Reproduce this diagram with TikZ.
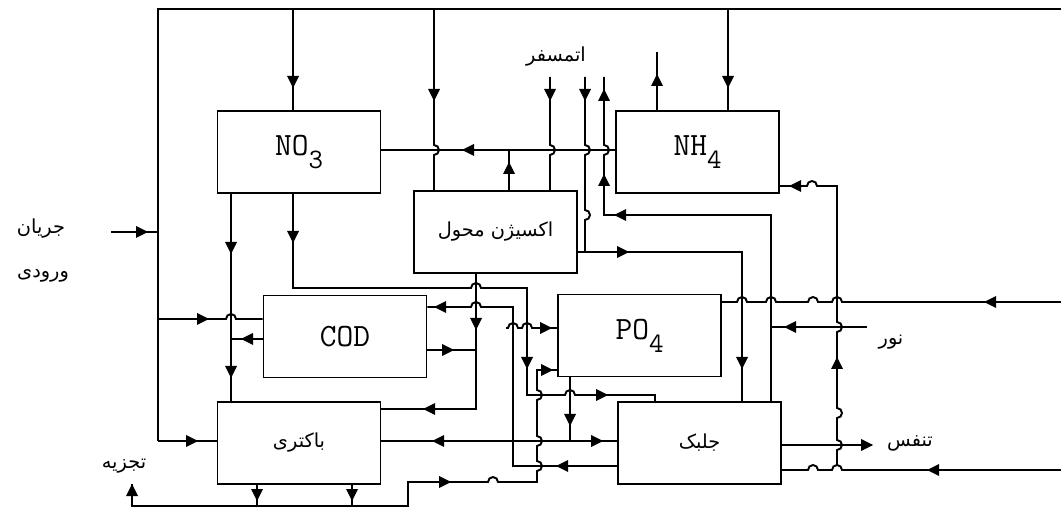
\documentclass[tikz,border=0pt]{standalone}
\usepackage{fontspec}
\newfontfamily\fa[Script=Arabic]{DejaVu Sans}
\TeXXeTstate=1
% jumps over a crossing line: heading right / left / down / up
\newcommand\jr[2]{-- ({#1-5},#2) arc[start angle=180,end angle=360,radius=5]}
\newcommand\jl[2]{-- ({#1+5},#2) arc[start angle=0,end angle=-180,radius=5]}
\newcommand\jd[2]{-- (#1,{#2-5}) arc[start angle=-90,end angle=90,radius=5]}
\newcommand\ju[2]{-- (#1,{#2+5}) arc[start angle=90,end angle=-90,radius=5]}
\newcommand\lowsub[1]{\raisebox{-0.4em}{\fontsize{16}{16}\selectfont #1}}
\begin{document}
\begin{tikzpicture}[x=0.02cm,y=-0.02cm,line width=1.1pt,
  box/.style={draw,minimum width=3.26cm,minimum height=1.64cm,inner sep=0pt,
              font=\ttfamily\fontsize{18.5}{18.5}\selectfont},
  fabox/.style={box,font=\fa\fontsize{11}{11}\selectfont},
  lbl/.style={font=\fa\fontsize{11}{11}\selectfont,inner sep=0pt},
  tipR/.pic={\fill (6,0) -- (-6,-6) -- (-6,6) -- cycle;},
  tipL/.pic={\fill (-6,0) -- (6,-6) -- (6,6) -- cycle;},
  tipD/.pic={\fill (0,6) -- (-6,-6) -- (6,-6) -- cycle;},
  tipU/.pic={\fill (0,-6) -- (-6,6) -- (6,6) -- cycle;}
]
\useasboundingbox (0,0) rectangle (1061,509);
% compartments
\node[box] (no3) at (299,152) {NO\lowsub{3}};
\node[box] (nh4) at (697.5,152) {NH\lowsub{4}};
\node[fabox] (oxy) at (495.5,232) {\beginR اکسیژن محول\endR};
\node[box] (cod) at (345,336.5) {COD};
\node[box] (po4) at (639.5,335.5) {PO\lowsub{4}};
\node[fabox] (bac) at (299,443) {\beginR باکتری\endR};
\node[fabox] (alg) at (699.5,443) {\beginR جلبک\endR};
% labels
\node[lbl] (inflow1) at (41,229) {\beginR جریان\endR};
\node[lbl] (inflow2) at (43,276) {\beginR ورودی\endR};
\node[lbl] (decay) at (124,466) {\beginR تجزیه\endR};
\node[lbl] (atm) at (556,57) {\beginR اتمسفر\endR};
\node[lbl] (light) at (891,342) {\beginR نور\endR};
\node[lbl] (resp) at (910,443) {\beginR تنفس\endR};

% inflow and feed line
\draw (111,232) -- (158,232);
\pic at (142,232) {tipR};
\draw (158,441) -- (158,9) -- (1061,9);
\draw (293,9) -- (293,0 |- no3.north);
\pic at (293,82) {tipD};
\draw (434,9) \jd{434}{150} -- (434,0 |- oxy.north);
\pic at (434,95) {tipD};
\draw (728,9) -- (728,0 |- nh4.north);
\pic at (728,82) {tipD};
\draw (158,319) \jr{231}{319} -- (cod.west |- 0,319);
\pic at (203,319) {tipR};
\draw (158,441) -- (bac.west |- 0,441);
\pic at (192,441) {tipR};

% nitrogen
\draw (nh4.west |- 0,150) -- (no3.east |- 0,150);
\pic at (468,150) {tipL};
\draw (509,0 |- oxy.north) -- (509,150);
\pic at (509,168) {tipU};
\draw (657,0 |- nh4.north) -- (657,52);
\pic at (657,80) {tipU};
\draw (231,0 |- no3.south) -- (231,0 |- bac.north);
\pic at (231,248) {tipD};
\pic at (231,372) {tipD};
\draw (cod.west |- 0,339) -- (231,339);
\pic at (247,339) {tipL};
\draw (293,0 |- no3.south) -- (293,288) \jr{476}{288} -- (527,288) -- (527,395)
  \jr{570}{395} -- (655,395) -- (655,0 |- alg.north);
\pic at (293,237) {tipD};
\pic at (527,363) {tipD};
\pic at (602,395) {tipR};

% atmosphere
\draw (550,77) \jd{550}{150} -- (550,0 |- oxy.north);
\pic at (550,95) {tipD};
\draw (585,77) \jd{585}{150} \jd{585}{215} -- (585,252);
\pic at (585,95) {tipD};
\draw (oxy.east |- 0,252) -- (742,252) -- (742,0 |- alg.north);
\pic at (623,252) {tipR};
\pic at (742,363) {tipD};
\draw (771,0 |- alg.north) -- (771,215) -- (604,215) \ju{604}{150} -- (604,77);
\pic at (620,215) {tipL};
\pic at (604,180) {tipU};
\pic at (604,95) {tipU};

% oxygen, COD, bacteria
\draw (476,0 |- oxy.south) -- (476,409) -- (bac.east |- 0,409);
\pic at (476,324) {tipD};
\pic at (429,409) {tipL};
\draw (cod.east |- 0,350) -- (476,350);
\pic at (448,350) {tipR};
\draw (alg.west |- 0,466) -- (513,466) -- (513,307) \jl{476}{307} -- (cod.east |- 0,307);
\pic at (562,466) {tipL};
\pic at (440,307) {tipL};

% phosphate
\draw (506,328) \jr{513}{328} \jr{527}{328} -- (po4.west |- 0,328);
\pic at (546,328) {tipR};
\draw (570,0 |- po4.south) -- (570,441);
\pic at (570,420) {tipD};
\draw (bac.east |- 0,441) -- (alg.west |- 0,441);
\pic at (438,441) {tipL};
\pic at (597,441) {tipR};
\draw (257,0 |- bac.south) -- (257,506);
\draw (352,0 |- bac.south) -- (352,506);
\pic at (257,495) {tipD};
\pic at (352,495) {tipD};
\draw (132,484) -- (132,506) -- (408,506) -- (408,482) \jr{493}{482} -- (537,482)
  \ju{537}{466} \ju{537}{441} \ju{537}{395} -- (537,370) -- (po4.west |- 0,370);
\pic at (132,490) {tipU};
\pic at (445,482) {tipR};
\pic at (547,370) {tipR};

% right-hand inputs
\draw (1061,302) \jl{837}{302} \jl{813}{302} \jl{771}{302} \jl{742}{302} -- (po4.east |- 0,302);
\pic at (990,302) {tipL};
\draw (1061,470) \jl{837}{470} \jl{813}{470} -- (alg.east |- 0,470);
\pic at (933,470) {tipL};
\draw (837,465) \ju{837}{445} \ju{837}{413} \ju{837}{327} -- (837,186) \jl{812}{186}
  -- (nh4.east |- 0,186);
\pic at (837,363) {tipU};
\pic at (795,186) {tipL};
\draw (867,327) -- (771,327);
\pic at (790,327) {tipL};
\draw (alg.east |- 0,445) -- (872,445);
\pic at (867,445) {tipR};
\end{tikzpicture}
\end{document}
